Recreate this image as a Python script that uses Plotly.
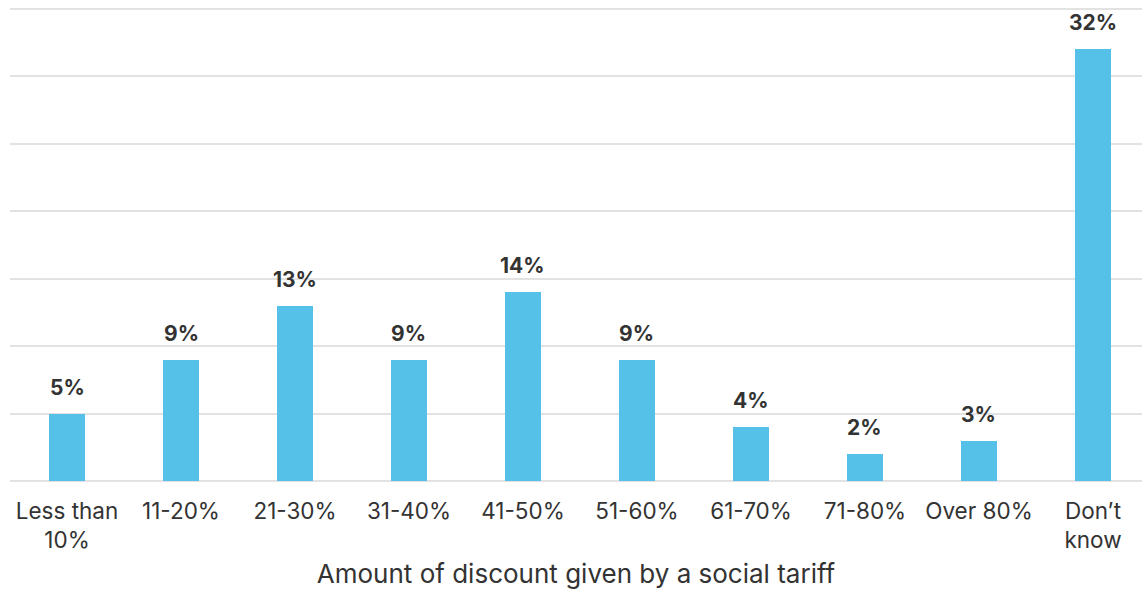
import plotly.graph_objects as go

categories = ["Less than<br>10%", "11-20%", "21-30%", "31-40%", "41-50%",
              "51-60%", "61-70%", "71-80%", "Over 80%", "Don\u2019t<br>know"]
values = [5, 9, 13, 9, 14, 9, 4, 2, 3, 32]
labels = [f"{v}%" for v in values]

x_pos = list(range(len(categories)))

fig = go.Figure(
    go.Bar(
        x=x_pos,
        y=values,
        width=0.31,
        marker=dict(color="#56C1E8", line=dict(width=0)),
        cliponaxis=False,
    )
)

# value labels sitting a little above each bar
for xi, v, lab in zip(x_pos, values, labels):
    fig.add_annotation(
        x=xi, y=v, text=lab, showarrow=False,
        yanchor="bottom", yshift=12,
        font=dict(family="Inter", size=21, color="#333333", weight="bold"),
    )

fig.update_layout(
    width=1142,
    height=589,
    margin=dict(l=10, r=0, t=6, b=108, autoexpand=False),
    paper_bgcolor="white",
    plot_bgcolor="white",
    font=dict(family="Inter", size=22, color="#333333"),
    showlegend=False,
    bargap=0,
)

fig.update_xaxes(
    tickmode="array",
    tickvals=x_pos,
    ticktext=categories,
    range=[-0.5, 9.43],
    showgrid=False,
    zeroline=False,
    showline=False,
    ticks="",
    automargin=False,
    ticklabelstandoff=14,
    tickfont=dict(family="Inter", size=22.5, color="#333333"),
    title=dict(text="Amount of discount given by a social tariff",
               font=dict(family="Inter", size=26, color="#333333"), standoff=20),
)

fig.update_yaxes(
    range=[0, 35.2],
    tickvals=[5, 10, 15, 20, 25, 30, 35],
    showticklabels=False,
    showgrid=True,
    gridcolor="#E2E2E2",
    gridwidth=2,
    zeroline=True,
    zerolinecolor="#E2E2E2",
    zerolinewidth=2,
    automargin=False,
)

fig.write_html("out.html")
